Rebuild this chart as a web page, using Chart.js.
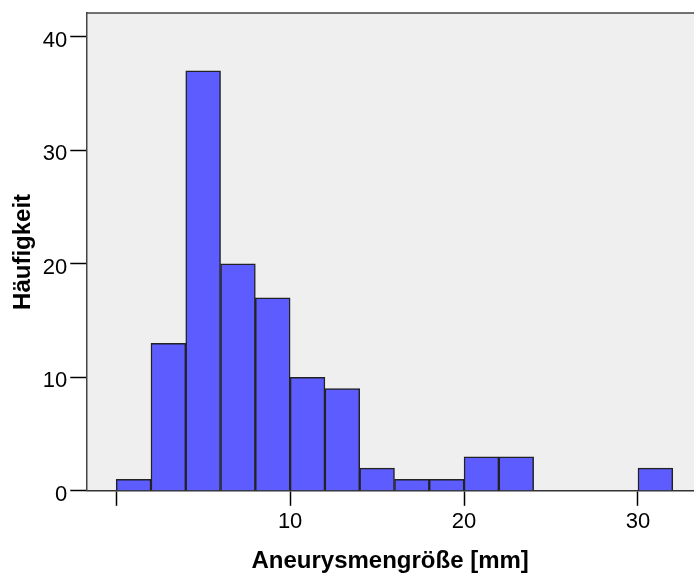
<!DOCTYPE html>
<html>
<head>
<meta charset="utf-8">
<script src="https://cdn.jsdelivr.net/npm/chart.js@4/dist/chart.umd.min.js"></script>
<style>
  html, body { margin: 0; padding: 0; background: #fff; }
  #wrap { width: 694px; height: 576px; }
</style>
</head>
<body>
<div id="wrap"><canvas id="myChart"></canvas></div>
<script>
// histogram bins (mm), 2 mm wide
const binStarts = [0, 2, 4, 6, 8, 10, 12, 14, 16, 18, 20, 22, 24, 26, 28, 30];
const counts = [1, 13, 37, 20, 17, 10, 9, 2, 1, 1, 3, 3, 0, 0, 0, 2];
const xTicks = [0, 10, 20, 30];
const yTicks = [0, 10, 20, 30, 40];
const binWidth = 2;

const ctx = document.getElementById("myChart").getContext("2d");

// grey plot background + top frame line, like SPSS
const plotBg = {
  id: "plotBg",
  beforeDraw(chart) {
    const a = chart.chartArea;
    const c = chart.ctx;
    c.save();
    c.fillStyle = "#efefef";
    c.fillRect(a.left, a.top, a.right - a.left, a.bottom - a.top);
    c.restore();
  },
  afterDraw(chart) {
    const a = chart.chartArea;
    const c = chart.ctx;
    c.save();
    c.strokeStyle = "#444";
    c.lineWidth = 1.5;
    c.beginPath();
    c.moveTo(a.left, a.top);
    c.lineTo(a.right, a.top);
    c.stroke();
    c.restore();
  },
};

const font = { family: "'Liberation Sans', Arial, sans-serif", size: 22 };
const titleFont = { family: "'Liberation Sans', Arial, sans-serif", size: 24, weight: "bold" };

let myChart = new Chart(ctx, {
  type: "bar",
  data: {
    datasets: [
      {
        data: binStarts.map((s, i) => ({ x: s + binWidth / 2, y: counts[i] })),
        backgroundColor: "#5c5cff",
        borderColor: "#222",
        borderWidth: 1.5,
        borderSkipped: "bottom",
        barPercentage: 1,
        categoryPercentage: 1,
      },
    ],
  },
  options: {
    responsive: true,
    maintainAspectRatio: false,
    animation: false,
    layout: { padding: { top: 13, right: 0, left: 9, bottom: 0 } },
    plugins: {
      legend: { display: false },
      tooltip: { enabled: false },
    },
    scales: {
      x: {
        type: "linear",
        min: -1.72,
        max: 33.22,
        offset: false,
        afterBuildTicks: (axis) => {
          axis.ticks = xTicks.map((v) => ({ value: v }));
        },
        afterFit: (axis) => {
          axis.paddingLeft = 0;
          axis.paddingRight = 0;
        },
        ticks: {
          color: "#000",
          font: font,
          padding: 3,
          maxRotation: 0,
          callback: (v) => (v === 0 ? "" : v),
        },
        grid: {
          display: true,
          offset: false,
          drawOnChartArea: false,
          drawTicks: true,
          tickLength: 15,
          tickColor: "#000",
          tickWidth: 1.5,
        },
        border: { display: true, color: "#333", width: 1.5 },
        title: {
          display: true,
          text: "Aneurysmengröße [mm]",
          color: "#000",
          font: titleFont,
          padding: { top: 9, bottom: 0 },
        },
      },
      y: {
        min: 0,
        max: 42.1,
        afterBuildTicks: (axis) => {
          axis.ticks = yTicks.map((v) => ({ value: v }));
        },
        afterFit: (axis) => {
          axis.paddingTop = 0;
          axis.paddingBottom = 0;
        },
        ticks: {
          color: "#000",
          font: font,
          padding: 3,
          labelOffset: 4,
        },
        grid: {
          display: true,
          drawOnChartArea: false,
          drawTicks: true,
          tickLength: 16,
          tickColor: "#000",
          tickWidth: 1.5,
        },
        border: { display: true, color: "#444", width: 1.5 },
        title: {
          display: true,
          text: "Häufigkeit",
          color: "#000",
          font: titleFont,
          padding: { top: 0, bottom: 2 },
        },
      },
    },
  },
  plugins: [plotBg],
});
</script>
</body>
</html>
